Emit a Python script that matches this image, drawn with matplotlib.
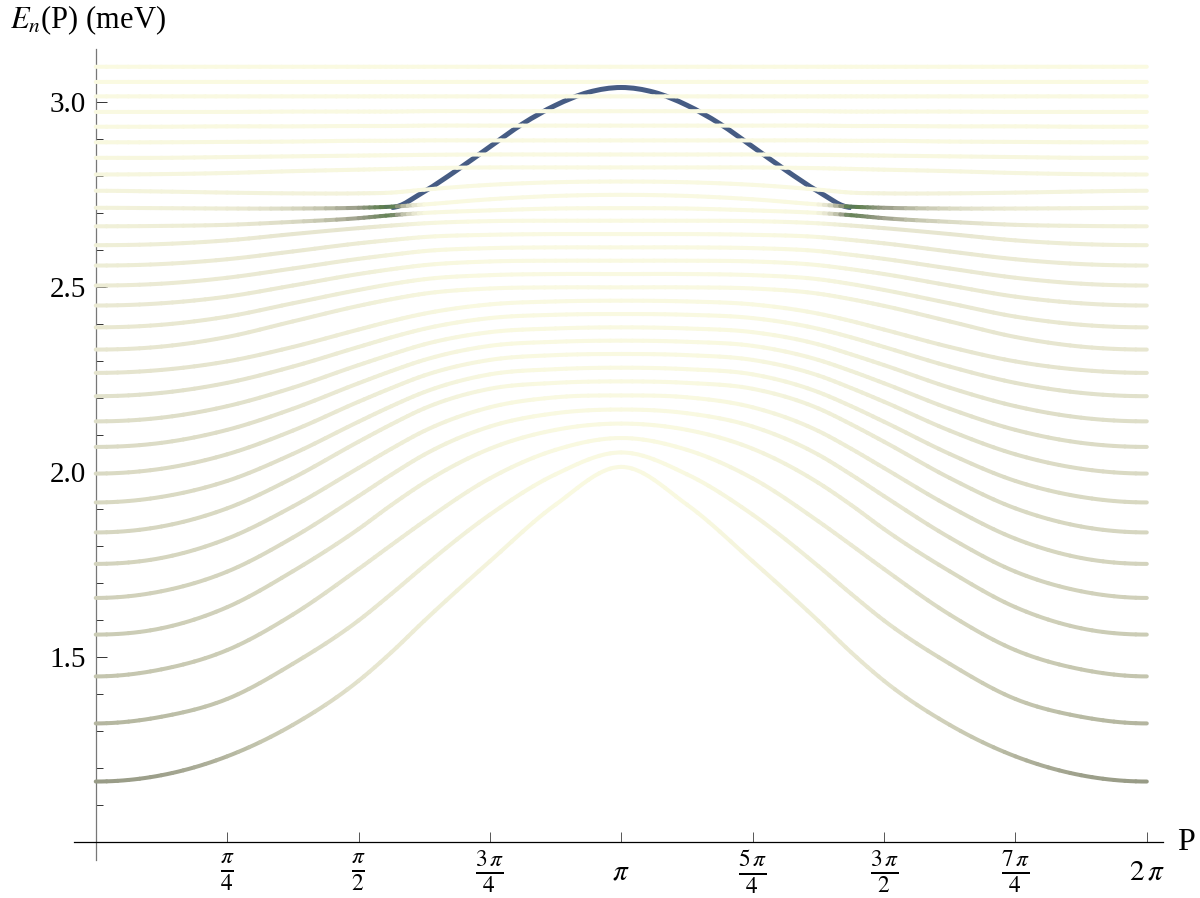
import numpy as np
import matplotlib
matplotlib.use("Agg")
import matplotlib.pyplot as plt
from matplotlib.collections import PathCollection
from matplotlib.patches import PathPatch
from matplotlib.path import Path
from matplotlib.colors import LinearSegmentedColormap
from matplotlib.ticker import MultipleLocator, FixedLocator

# momentum grid for the left half (0 .. pi); right half is the mirror image
P_half = np.pi * np.array([0, 1, 2, 3, 4, 4.5, 5, 6, 7, 8]) / 8

# energies E_n(P) in meV, one row per level, read on P_half
levels = [
    [1.163, 1.180, 1.231, 1.316, 1.435, 1.512, 1.597, 1.758, 1.911, 2.013],
    [1.320, 1.338, 1.386, 1.481, 1.598, 1.670, 1.745, 1.884, 1.993, 2.052],
    [1.447, 1.466, 1.518, 1.614, 1.737, 1.802, 1.866, 1.982, 2.059, 2.091],
    [1.560, 1.577, 1.634, 1.731, 1.845, 1.910, 1.970, 2.062, 2.113, 2.130],
    [1.659, 1.677, 1.730, 1.822, 1.934, 1.992, 2.046, 2.122, 2.158, 2.168],
    [1.751, 1.767, 1.819, 1.906, 2.010, 2.062, 2.110, 2.174, 2.201, 2.206],
    [1.836, 1.852, 1.901, 1.983, 2.081, 2.128, 2.171, 2.224, 2.240, 2.244],
    [1.917, 1.932, 1.975, 2.048, 2.135, 2.177, 2.215, 2.263, 2.277, 2.281],
    [1.995, 2.008, 2.047, 2.111, 2.189, 2.226, 2.260, 2.302, 2.315, 2.318],
    [2.067, 2.078, 2.113, 2.170, 2.239, 2.272, 2.302, 2.340, 2.351, 2.354],
    [2.136, 2.146, 2.177, 2.227, 2.288, 2.317, 2.344, 2.377, 2.387, 2.390],
    [2.204, 2.213, 2.240, 2.284, 2.337, 2.363, 2.386, 2.415, 2.424, 2.426],
    [2.267, 2.275, 2.298, 2.337, 2.384, 2.407, 2.427, 2.452, 2.460, 2.462],
    [2.330, 2.338, 2.364, 2.406, 2.448, 2.466, 2.481, 2.495, 2.498, 2.498],
    [2.390, 2.397, 2.419, 2.455, 2.491, 2.507, 2.520, 2.531, 2.534, 2.534],
    [2.449, 2.455, 2.473, 2.503, 2.534, 2.547, 2.558, 2.568, 2.570, 2.570],
    [2.503, 2.508, 2.524, 2.549, 2.575, 2.586, 2.596, 2.604, 2.606, 2.606],
    [2.557, 2.561, 2.574, 2.595, 2.617, 2.626, 2.634, 2.640, 2.642, 2.642],
    [2.612, 2.615, 2.625, 2.642, 2.658, 2.665, 2.671, 2.677, 2.678, 2.678],
    [2.663, 2.664, 2.667, 2.675, 2.685, 2.693, 2.699, 2.706, 2.711, 2.712],
    [2.713, 2.712, 2.711, 2.711, 2.713, 2.716, 2.722, 2.736, 2.745, 2.748],
    [2.759, 2.757, 2.754, 2.752, 2.752, 2.754, 2.762, 2.775, 2.782, 2.784],
    [2.803, 2.804, 2.807, 2.812, 2.816, 2.818, 2.820, 2.822, 2.822, 2.822],
    [2.848, 2.848, 2.850, 2.852, 2.854, 2.855, 2.856, 2.857, 2.857, 2.857],
    [2.890, 2.890, 2.891, 2.892, 2.894, 2.894, 2.895, 2.895, 2.895, 2.895],
    [2.932, 2.932, 2.933, 2.933, 2.934, 2.934, 2.935, 2.935, 2.935, 2.935],
    [2.972, 2.972, 2.972, 2.973, 2.973, 2.973, 2.974, 2.974, 2.974, 2.974],
    [3.014, 3.014, 3.014, 3.014, 3.014, 3.014, 3.014, 3.014, 3.014, 3.014],
    [3.053, 3.053, 3.053, 3.053, 3.053, 3.053, 3.053, 3.053, 3.053, 3.053],
    [3.094, 3.094, 3.094, 3.094, 3.094, 3.094, 3.094, 3.094, 3.094, 3.094],
]

# overlap weight of each level with the bound state (drives the colour)
weights = [
    [0.62, 0.60, 0.52, 0.40, 0.27, 0.21, 0.16, 0.08, 0.03, 0.02],
    [0.52, 0.50, 0.45, 0.36, 0.26, 0.21, 0.16, 0.08, 0.03, 0.02],
    [0.46, 0.45, 0.41, 0.34, 0.25, 0.20, 0.16, 0.08, 0.03, 0.02],
    [0.42, 0.41, 0.38, 0.32, 0.24, 0.19, 0.15, 0.07, 0.03, 0.02],
    [0.39, 0.38, 0.36, 0.31, 0.23, 0.18, 0.14, 0.06, 0.02, 0.02],
    [0.37, 0.36, 0.34, 0.30, 0.22, 0.17, 0.13, 0.05, 0.02, 0.02],
    [0.35, 0.35, 0.33, 0.29, 0.21, 0.16, 0.12, 0.05, 0.02, 0.02],
    [0.34, 0.33, 0.32, 0.28, 0.20, 0.15, 0.11, 0.04, 0.02, 0.02],
    [0.33, 0.32, 0.31, 0.27, 0.19, 0.14, 0.10, 0.04, 0.02, 0.02],
    [0.32, 0.31, 0.30, 0.26, 0.18, 0.13, 0.09, 0.03, 0.02, 0.02],
    [0.30, 0.30, 0.29, 0.25, 0.17, 0.12, 0.08, 0.03, 0.02, 0.02],
    [0.28, 0.28, 0.27, 0.24, 0.16, 0.11, 0.07, 0.03, 0.02, 0.02],
    [0.26, 0.26, 0.25, 0.23, 0.15, 0.10, 0.06, 0.02, 0.02, 0.02],
    [0.24, 0.24, 0.24, 0.22, 0.15, 0.10, 0.06, 0.02, 0.02, 0.02],
    [0.22, 0.22, 0.22, 0.21, 0.15, 0.09, 0.05, 0.02, 0.02, 0.02],
    [0.20, 0.20, 0.21, 0.21, 0.15, 0.09, 0.05, 0.02, 0.02, 0.02],
    [0.18, 0.19, 0.20, 0.21, 0.16, 0.10, 0.05, 0.02, 0.02, 0.02],
    [0.16, 0.17, 0.19, 0.22, 0.18, 0.12, 0.05, 0.02, 0.02, 0.02],
    [0.14, 0.15, 0.18, 0.24, 0.25, 0.18, 0.06, 0.02, 0.02, 0.02],
    [0.12, 0.14, 0.20, 0.32, 0.60, 0.78, 0.04, 0.02, 0.02, 0.02],
    [0.10, 0.12, 0.18, 0.34, 0.62, 0.85, 0.03, 0.02, 0.02, 0.02],
    [0.08, 0.08, 0.09, 0.10, 0.10, 0.05, 0.02, 0.02, 0.02, 0.02],
    [0.06, 0.06, 0.06, 0.06, 0.05, 0.03, 0.02, 0.02, 0.02, 0.02],
    [0.05, 0.05, 0.05, 0.04, 0.03, 0.02, 0.02, 0.02, 0.02, 0.02],
    [0.04, 0.04, 0.04, 0.03, 0.02, 0.02, 0.02, 0.02, 0.02, 0.02],
    [0.03, 0.03, 0.03, 0.02, 0.02, 0.02, 0.02, 0.02, 0.02, 0.02],
    [0.02, 0.02, 0.02, 0.02, 0.02, 0.02, 0.02, 0.02, 0.02, 0.02],
    [0.02, 0.02, 0.02, 0.02, 0.02, 0.02, 0.02, 0.02, 0.02, 0.02],
    [0.01, 0.01, 0.01, 0.01, 0.01, 0.01, 0.01, 0.01, 0.01, 0.01],
    [0.01, 0.01, 0.01, 0.01, 0.01, 0.01, 0.01, 0.01, 0.01, 0.01],
]

# bound state branch (left half up to pi)
P_bound = np.pi * np.array([9, 10, 11, 12, 13, 14, 15, 16]) / 16
E_bound = [2.714, 2.757, 2.815, 2.878, 2.940, 2.990, 3.025, 3.038]

x_ticks = np.pi * np.arange(1, 9) / 4
x_labels = [r"$\frac{\pi}{4}$", r"$\frac{\pi}{2}$", r"$\frac{3\,\pi}{4}$", r"$\pi$",
            r"$\frac{5\,\pi}{4}$", r"$\frac{3\,\pi}{2}$", r"$\frac{7\,\pi}{4}$", r"$2\,\pi$"]
y_ticks = [1.5, 2.0, 2.5, 3.0]
y_labels = ["1.5", "2.0", "2.5", "3.0"]


def mirror(x_half, y_half):
    x_half = np.asarray(x_half, float)
    y_half = np.asarray(y_half, float)
    x = np.concatenate([x_half, 2 * np.pi - x_half[::-1][1:]])
    y = np.concatenate([y_half, y_half[::-1][1:]])
    return x, y


def hermite_pieces(x, y):
    """cubic bezier control points of a smooth curve through (x, y)"""
    h = np.diff(x)
    s = np.diff(y) / h
    d = np.zeros(len(x))
    d[1:-1] = (h[:-1] * s[1:] + h[1:] * s[:-1]) / (h[:-1] + h[1:])
    out = []
    for i in range(len(x) - 1):
        out.append(np.array([[x[i], y[i]],
                             [x[i] + h[i] / 3, y[i] + d[i] * h[i] / 3],
                             [x[i + 1] - h[i] / 3, y[i + 1] - d[i + 1] * h[i] / 3],
                             [x[i + 1], y[i + 1]]]))
    return out


def bez(c, t):
    return ((1 - t) ** 3 * c[0] + 3 * (1 - t) ** 2 * t * c[1]
            + 3 * (1 - t) * t ** 2 * c[2] + t ** 3 * c[3])


def dbez(c, t):
    return (3 * (1 - t) ** 2 * (c[1] - c[0]) + 6 * (1 - t) * t * (c[2] - c[1])
            + 3 * t ** 2 * (c[3] - c[2]))


def sub_bezier(c, t0, t1):
    a, b = bez(c, t0), bez(c, t1)
    k = (t1 - t0) / 3
    return np.array([a, a + k * dbez(c, t0), b - k * dbez(c, t1), b])


CODES = [Path.MOVETO, Path.CURVE4, Path.CURVE4, Path.CURVE4]

plt.rcParams["font.family"] = ["Liberation Serif", "DejaVu Serif"]
plt.rcParams["mathtext.fontset"] = "stix"

cmap = LinearSegmentedColormap.from_list("bands", [
    (0.0, "#FBFBE2"), (0.25, "#E6E5CF"), (0.45, "#C6C7B0"),
    (0.62, "#989B86"), (0.8, "#5C7E4E"), (1.0, "#465F88")])

fig = plt.figure(figsize=(12, 8.98), dpi=100)
ax = fig.add_axes([74 / 1200, 1 - 860 / 898, (1163 - 74) / 1200, (860 - 49) / 898])
ax.set_xlim(-0.13, 6.38)
ax.set_ylim(0.951, 3.142)

# bound state underneath the continuum levels
xb, yb = mirror(P_bound, E_bound)
verts, codes = [], []
for j, c in enumerate(hermite_pieces(xb, yb)):
    verts.extend(c if j == 0 else c[1:])
    codes.extend(CODES if j == 0 else CODES[1:])
ax.add_patch(PathPatch(Path(verts, codes), fill=False, edgecolor="#465C84",
                       lw=3.6, capstyle="butt", zorder=2))

n_sub = 6
for E, W in zip(levels, weights):
    x, y = mirror(P_half, E)
    _, w = mirror(P_half, W)
    paths, cols = [], []
    for i, c in enumerate(hermite_pieces(x, y)):
        for s in range(n_sub):
            t0, t1 = s / n_sub, (s + 1) / n_sub
            paths.append(Path(sub_bezier(c, t0, t1), CODES))
            cols.append(w[i] + (w[i + 1] - w[i]) * (t0 + t1) / 2)
    pc = PathCollection(paths, facecolors="none", edgecolors=cmap(np.array(cols)),
                        linewidths=2.9, capstyle="round", joinstyle="round",
                        transform=ax.transData, zorder=3)
    ax.add_collection(pc)

for s in ["top", "right"]:
    ax.spines[s].set_visible(False)
ax.spines["left"].set_position(("data", 0))
ax.spines["bottom"].set_position(("data", 1.0))
ax.spines["left"].set_color("#777777")
ax.spines["bottom"].set_color("black")
ax.spines["left"].set_linewidth(0.9)
ax.spines["bottom"].set_linewidth(0.9)

ax.xaxis.set_major_locator(FixedLocator(x_ticks))
ax.set_xticklabels(x_labels)
ax.yaxis.set_major_locator(FixedLocator(y_ticks))
ax.set_yticklabels(y_labels)
ax.yaxis.set_minor_locator(MultipleLocator(0.1))
ax.tick_params(axis="x", direction="in", length=7.5, width=0.7, color="#555555",
               labelsize=21, pad=22)
ax.tick_params(axis="y", which="major", direction="in", length=8, width=0.7,
               color="#333333", labelsize=21, pad=7)
ax.tick_params(axis="y", which="minor", direction="in", length=5, width=0.7,
               color="#333333")
for lab in ax.get_xticklabels():
    lab.set_va("center")
    if "frac" in lab.get_text():
        lab.set_fontsize(24)

fig.text(10 / 1200, 1 - 20 / 898, r"$E_n$(P) (meV)", fontsize=22, ha="left", va="center")
fig.text(1186 / 1200, 1 - 842 / 898, "P", fontsize=23, ha="center", va="center")

fig.savefig("out.png", dpi=100, facecolor="white")
